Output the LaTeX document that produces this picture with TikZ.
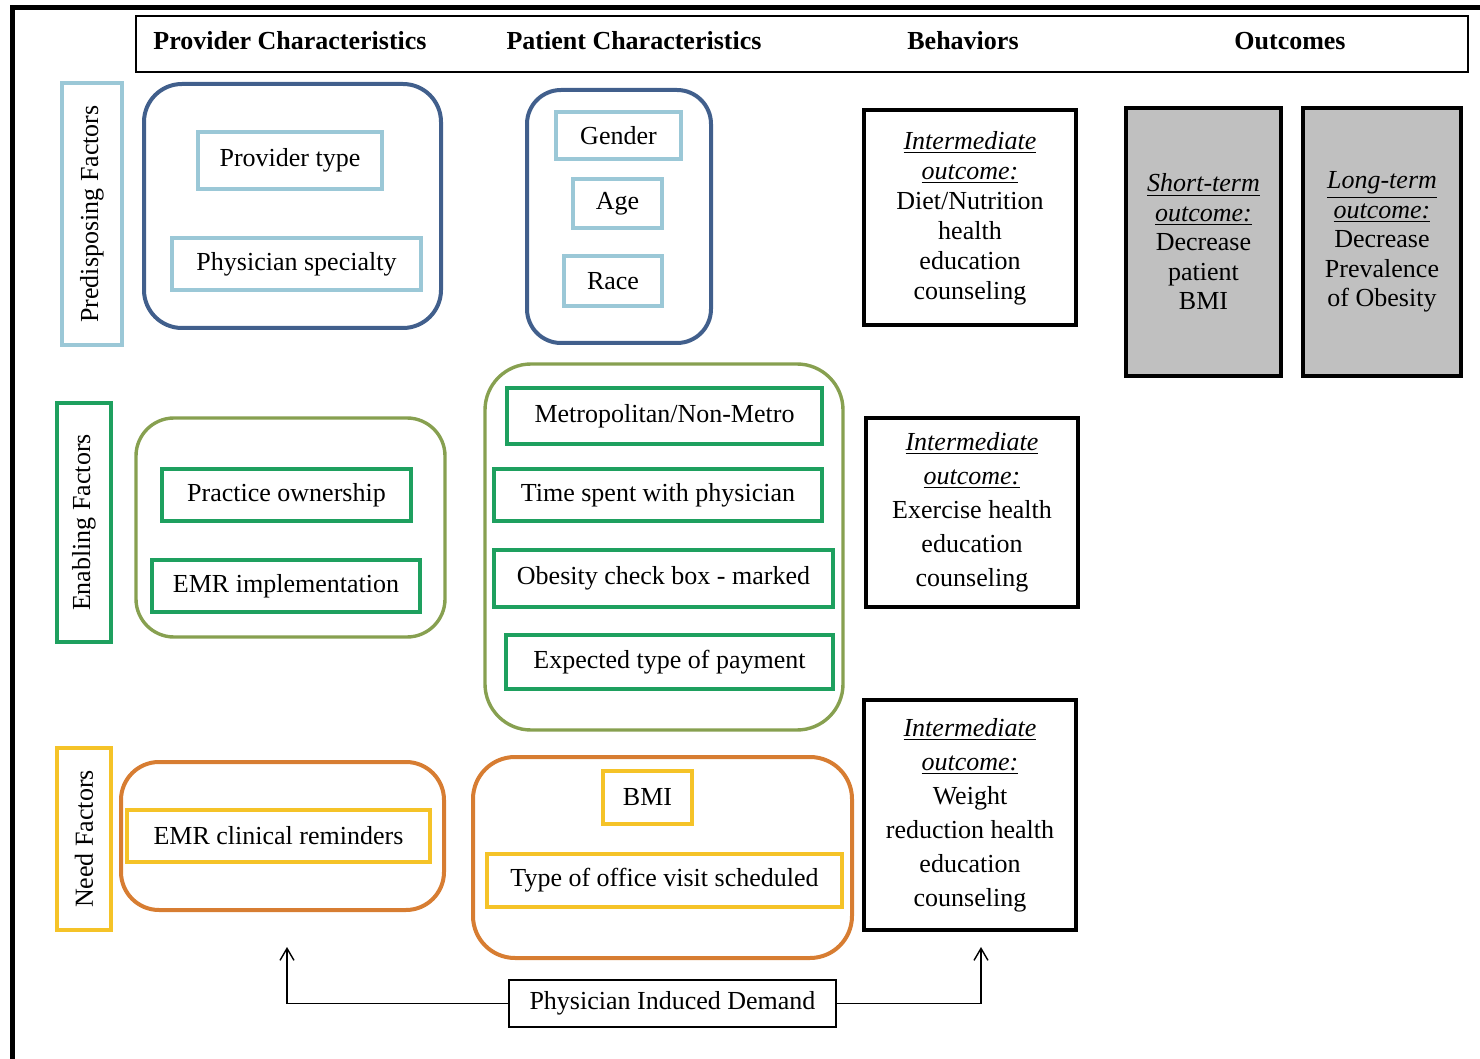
\documentclass[tikz,border=0pt]{standalone}
\usepackage{fontspec}
\setmainfont{Liberation Serif}
\usetikzlibrary{arrows.meta}
\definecolor{lblue}{RGB}{155,200,215}
\definecolor{dblue}{RGB}{65,95,140}
\definecolor{fgreen}{RGB}{30,160,95}
\definecolor{olive}{RGB}{135,160,80}
\definecolor{gold}{RGB}{245,195,40}
\definecolor{orng}{RGB}{215,125,50}
\definecolor{outgray}{RGB}{192,192,192}
\tikzset{
  txt/.style={font=\fontsize{13}{15.5}\selectfont, inner sep=0pt, align=center},
  hdrtxt/.style={font=\fontsize{13}{15.5}\selectfont\bfseries, inner sep=0pt},
  itembox/.style={draw, line width=2pt, txt},
  group/.style={draw, line width=2pt, rounded corners=19pt},
  sidelab/.style={draw, line width=2pt, txt, rotate=90},
  behbox/.style={draw=black, line width=2pt, txt},
  outbox/.style={draw=black, line width=2pt, fill=outgray, txt, font=\fontsize{13}{14.75}\selectfont},
  arr/.style={-{Straight Barb[length=6pt,width=7pt]}, line width=0.7pt}
}
\newcommand{\iout}[1]{\underline{\textit{#1}}}
\begin{document}
\begin{tikzpicture}[x=0.5pt,y=-0.5pt]
\useasboundingbox (0,0) rectangle (1480,1059);
% outer frame
\draw[line width=2.5pt] (12,1059) -- (12,8) -- (1480,8);
% header
\node[draw, line width=0.8pt, minimum width=666pt, minimum height=28pt, inner sep=0pt] (hdr) at (802,44) {};
\node[hdrtxt] (h1) at (290,41) {Provider Characteristics};
\node[hdrtxt] (h2) at (634,41) {Patient Characteristics};
\node[hdrtxt] (h3) at (963,41) {Behaviors};
\node[hdrtxt] (h4) at (1290,41) {Outcomes};

% side labels
\node[sidelab, draw=lblue, minimum width=131pt, minimum height=30pt] (lab1) at (92,214) {Predisposing Factors};
\node[sidelab, draw=fgreen, minimum width=119.5pt, minimum height=27pt] (lab2) at (84,522.5) {Enabling Factors};
\node[sidelab, draw=gold, minimum width=91pt, minimum height=27pt] (lab3) at (84,839) {Need Factors};

% row 1
\node[group, draw=dblue, minimum width=148.5pt, minimum height=122pt] (g11) at (292.5,206) {};
\node[itembox, draw=lblue, minimum width=92pt, minimum height=28.5pt] (provtype) at (290,160.5) {Provider type};
\node[itembox, draw=lblue, minimum width=124.5pt, minimum height=26pt] (physspec) at (296.5,264) {Physician specialty};
\node[group, draw=dblue, minimum width=92pt, minimum height=126.5pt, rounded corners=17pt] (g12) at (619,216.5) {};
\node[itembox, draw=lblue, minimum width=62.5pt, minimum height=23.5pt] (gender) at (618.5,135.5) {Gender};
\node[itembox, draw=lblue, minimum width=44.5pt, minimum height=24.5pt] (age) at (617.5,203.5) {Age};
\node[itembox, draw=lblue, minimum width=49pt, minimum height=25pt] (race) at (613,281) {Race};
\node[behbox, minimum width=106pt, minimum height=107.5pt, font=\fontsize{13}{15}\selectfont] (int1) at (970,218)
  {\iout{Intermediate}\\ \iout{outcome:}\\ Diet/Nutrition\\ health\\ education\\ counseling};
\node[outbox, minimum width=77.5pt, minimum height=134pt] (st) at (1203.5,242)
  {\iout{Short-term}\\ \iout{outcome:}\\ Decrease\\ patient\\ BMI};
\node[outbox, minimum width=79pt, minimum height=134pt] (lt) at (1382,242)
  {\iout{Long-term}\\ \iout{outcome:}\\ Decrease\\ Prevalence\\ of Obesity};

% row 2
\node[group, draw=olive, minimum width=154.5pt, minimum height=109.5pt, line width=1.7pt] (g21) at (290.5,527.5) {};
\node[itembox, draw=fgreen, minimum width=124.5pt, minimum height=26pt] (practice) at (286.5,495) {Practice ownership};
\node[itembox, draw=fgreen, minimum width=134pt, minimum height=26pt] (emrimpl) at (286,586) {EMR implementation};
\node[group, draw=olive, minimum width=179pt, minimum height=183pt, line width=1.7pt, rounded corners=23pt] (g22) at (664,547) {};
\node[itembox, draw=fgreen, minimum width=157.5pt, minimum height=28pt] (metro) at (664.5,416) {Metropolitan/Non-Metro};
\node[itembox, draw=fgreen, minimum width=164pt, minimum height=26pt] (time) at (658,495) {Time spent with physician};
\node[itembox, draw=fgreen, minimum width=169.5pt, minimum height=28.5pt] (obes) at (663.5,578.5) {Obesity check box - marked};
\node[itembox, draw=fgreen, minimum width=163.5pt, minimum height=27pt] (pay) at (669.5,662) {Expected type of payment};
\node[behbox, minimum width=106pt, minimum height=94.5pt, font=\fontsize{13}{17}\selectfont] (int2) at (972,512.5)
  {\iout{Intermediate}\\ \iout{outcome:}\\ Exercise health\\ education\\ counseling};

% row 3
\node[group, draw=orng, minimum width=161.5pt, minimum height=74pt] (g31) at (282.5,836) {};
\node[itembox, draw=gold, minimum width=151.5pt, minimum height=26pt] (emrclin) at (278.5,836) {EMR clinical reminders};
\node[group, draw=orng, minimum width=189.5pt, minimum height=100.5pt, rounded corners=21pt] (g32) at (662.5,857.5) {};
\node[itembox, draw=gold, minimum width=44.5pt, minimum height=26.5pt] (bmi) at (647.5,797.5) {BMI};
\node[itembox, draw=gold, minimum width=177.5pt, minimum height=26.5pt] (visit) at (664.5,880.5) {Type of office visit scheduled};
\node[behbox, minimum width=106pt, minimum height=115pt, font=\fontsize{13}{17}\selectfont] (int3) at (970,815)
  {\iout{Intermediate}\\ \iout{outcome:}\\ Weight\\ reduction health\\ education\\ counseling};

% bottom
\node[draw, line width=0.8pt, txt, minimum width=163.5pt, minimum height=23.5pt] (pid) at (672.5,1003.5) {Physician Induced Demand};
\coordinate (ltip) at (287,947);
\coordinate (rtip) at (981,947);
\draw[arr] (pid.west) -| (ltip);
\draw[arr] (pid.east) -| (rtip);
\end{tikzpicture}
\end{document}
